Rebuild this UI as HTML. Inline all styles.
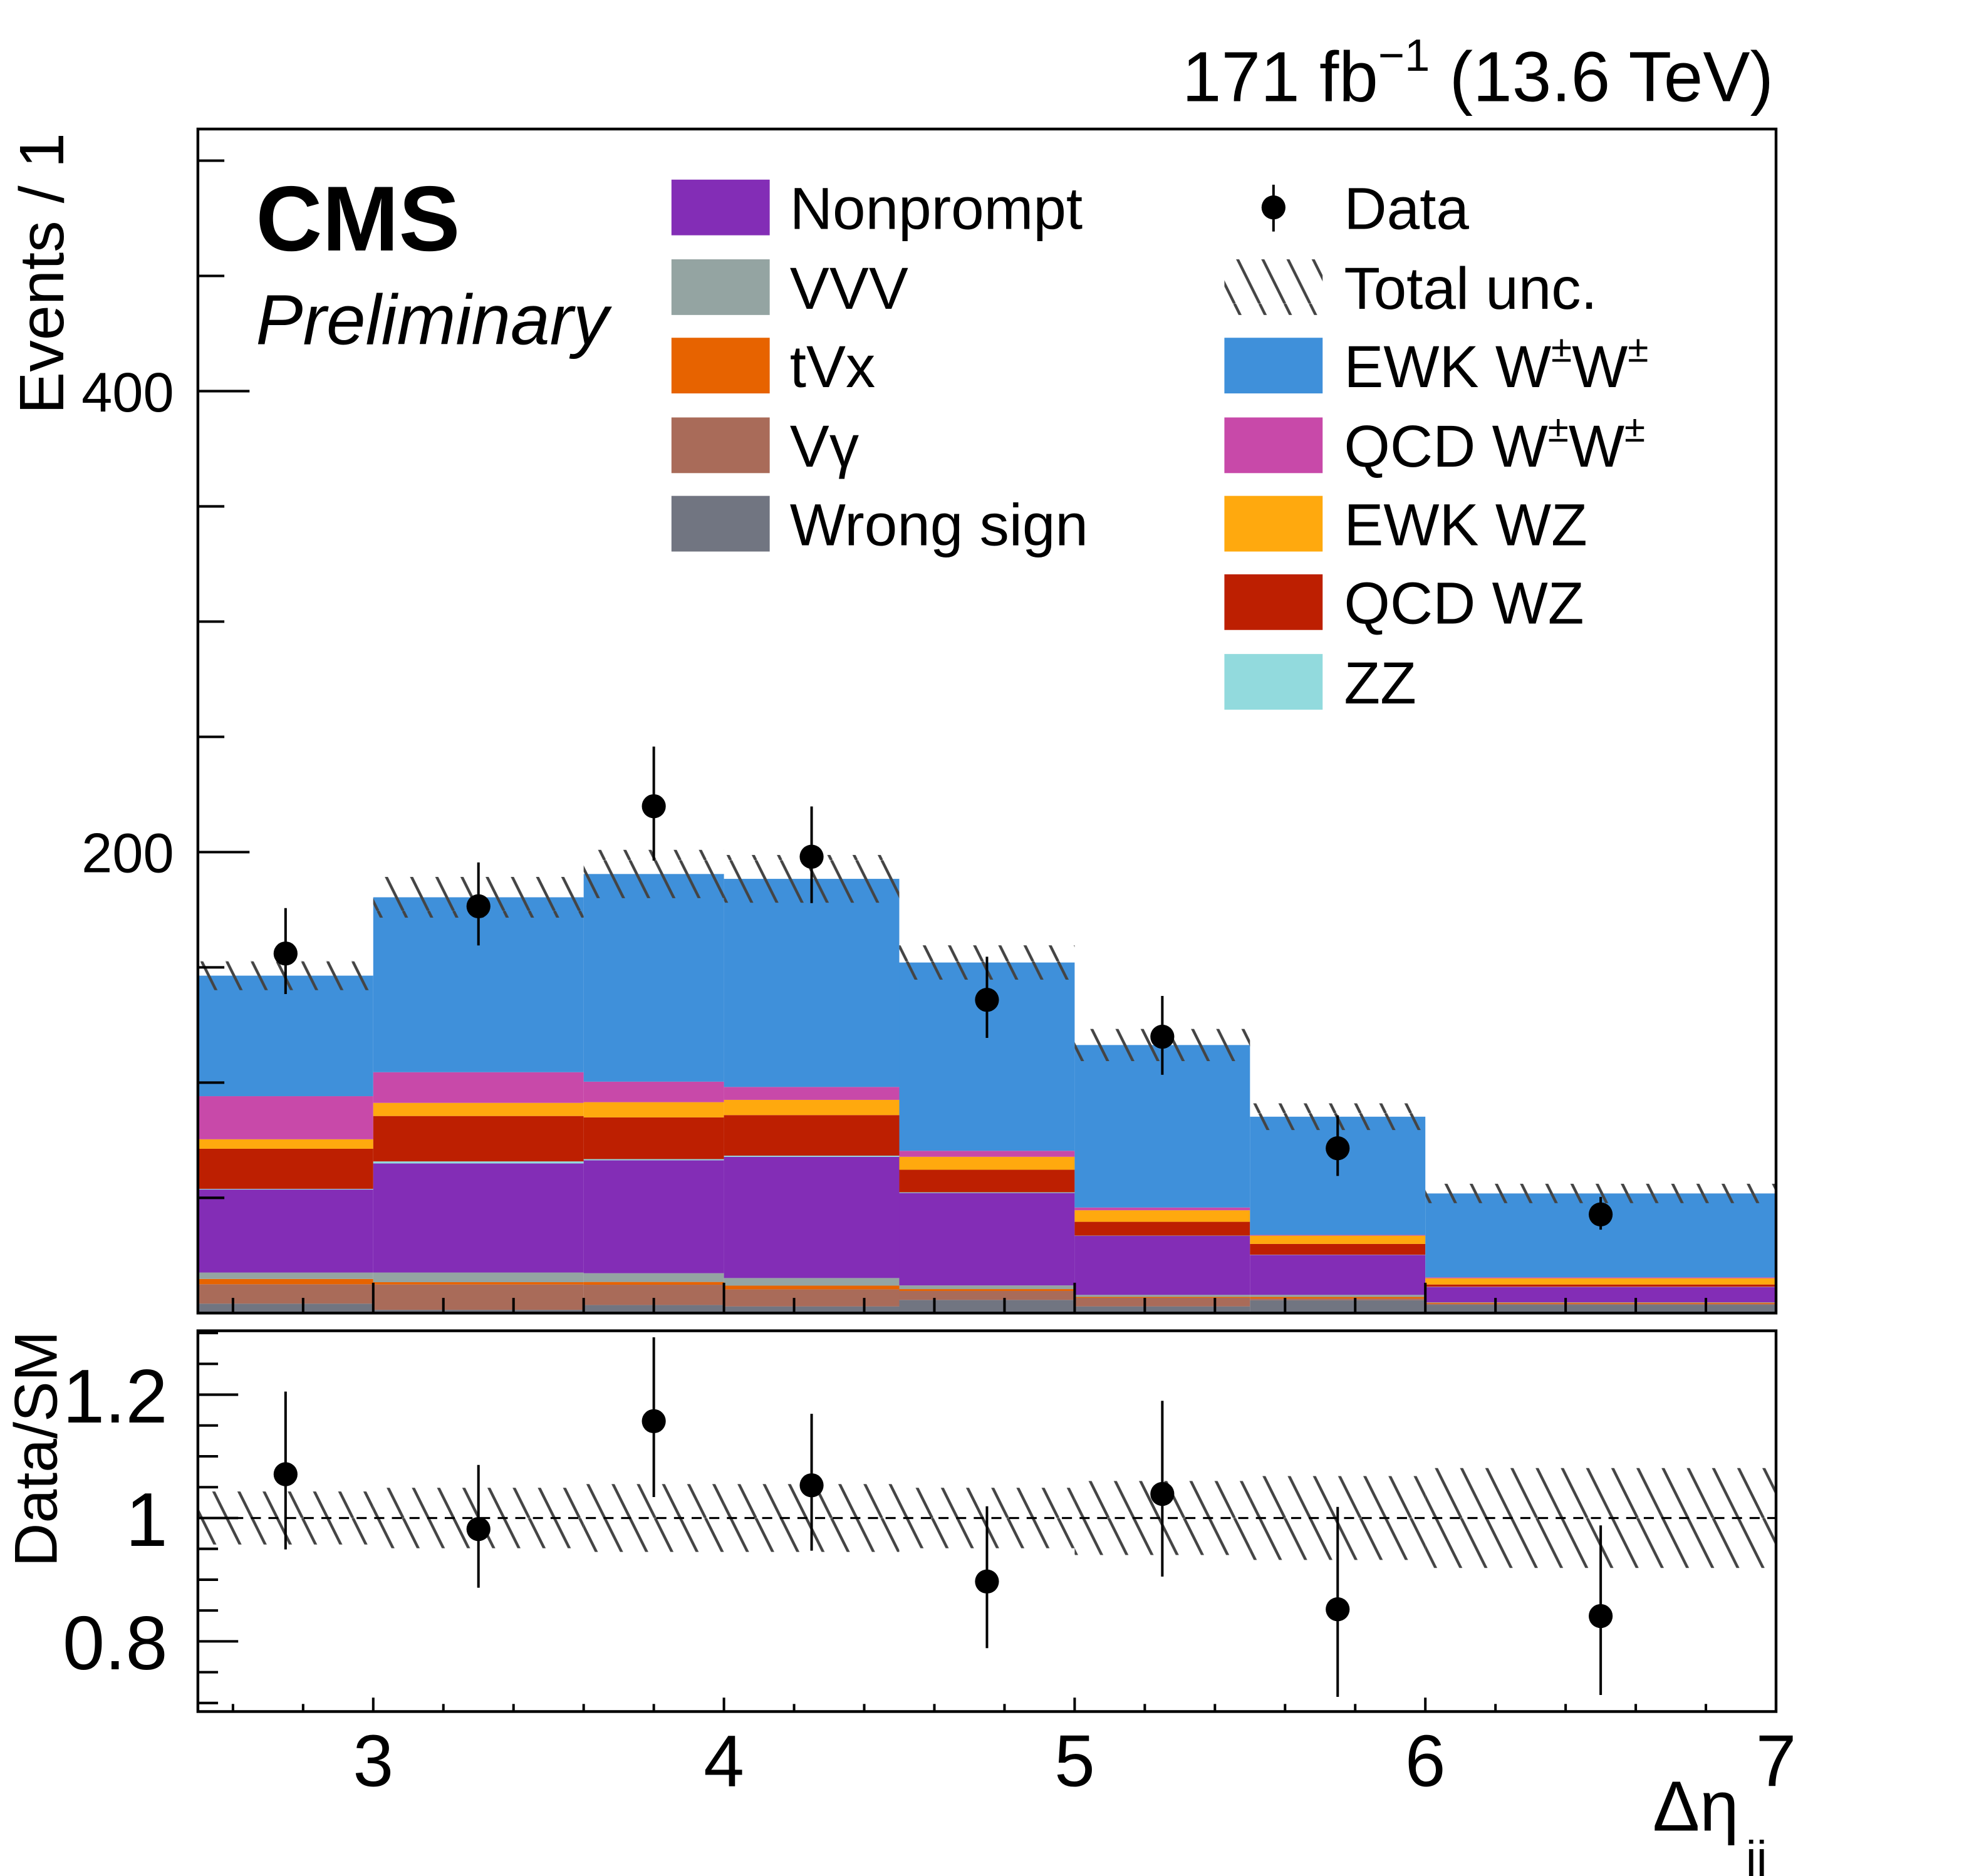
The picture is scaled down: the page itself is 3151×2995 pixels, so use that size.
<!DOCTYPE html>
<html><head><meta charset="utf-8"><style>
html,body{margin:0;padding:0;background:#fff;}
svg{display:block;}
text{font-family:"Liberation Sans",sans-serif;fill:#000;}
</style></head><body>
<svg id="chart" width="3151" height="2995" viewBox="0 0 1560 1483" xmlns="http://www.w3.org/2000/svg">
<defs>
<pattern id="hatch" patternUnits="userSpaceOnUse" width="20" height="40">
<line x1="0" y1="0" x2="20" y2="40" stroke="#444" stroke-width="2.2"/>
<line x1="-20" y1="0" x2="0" y2="40" stroke="#444" stroke-width="2.2"/>
<line x1="20" y1="0" x2="40" y2="40" stroke="#444" stroke-width="2.2"/>
</pattern>
</defs>
<g transform="scale(0.9955,1)">
<g id="main"></g>
<g id="ratio"></g>
<g id="legend"></g>

<text x="1408" y="80" font-size="56" text-anchor="end">171 fb<tspan dy="-24" font-size="36">−1</tspan><tspan dy="24"> (13.6 TeV)</tspan></text>
<text x="203" y="198" font-size="73" font-weight="bold">CMS</text>
<text x="203" y="272" font-size="56" font-style="italic">Preliminary</text>
<text transform="translate(50,105) rotate(-90)" font-size="50" text-anchor="end">Events / 1</text>
<text transform="translate(45,1052) rotate(-90)" font-size="48" text-anchor="end">Data/SM</text>
<text x="1312" y="1447" font-size="56" font-family="Liberation Serif, serif">Δη</text>
<text x="1386" y="1482" font-size="38">jj</text>
</g>
</svg>
<script>
const edges=[2.5,3,3.6,4,4.5,5,5.5,6,7];
const wrongSign=[4.1,1.4,3.5,2.9,5.7,2.9,5.6,3.6];
const vGamma=[8.4,11.0,8.8,7.4,3.9,3.7,0.7,0.5];
const tVx=[2.3,1.0,1.2,1.6,0.8,0.4,0.7,0.4];
const vvv=[2.8,4.2,3.8,3.3,1.6,0.9,0.9,0.2];
const nonprompt=[36.0,47.3,49.0,52.6,40.1,25.6,17.3,6.6];
const zz=[0.3,0.9,0.5,0.5,0.3,0.1,0.1,0.1];
const qcdWZ=[17.4,19.7,18.1,17.6,9.8,6.0,4.7,1.0];
const ewkWZ=[4.1,5.7,6.6,6.6,5.6,5.0,3.6,2.7];
const qcdWW=[18.7,13.3,8.9,5.6,2.6,1.2,0.3,0.4];
const ewkWW=[52.3,75.9,90.1,90.3,81.7,70.5,51.3,36.4];
const relUnc=[0.043,0.049,0.055,0.055,0.049,0.06,0.068,0.081];
const dataX=[2.75,3.3,3.8,4.25,4.75,5.25,5.75,6.5];
const dataY=[156.0,176.5,219.9,198.0,135.9,119.9,71.5,42.8];
const dataErrUp=[19.7,19.0,25.9,21.8,18.7,17.7,14.3,7.6];
const dataErrDn=[17.6,17.0,23.6,20.1,16.5,16.5,12.0,6.6];
const ratioY=[1.071,0.982,1.157,1.053,0.897,1.039,0.852,0.841];
const ratioErrUp=[0.134,0.104,0.136,0.116,0.122,0.151,0.166,0.147];
const ratioErrDn=[0.122,0.095,0.123,0.106,0.108,0.134,0.142,0.128];
const mainYTicks=[200,400];
const ratioYTicks=[0.8,1,1.2];
const xTicks=[3,4,5,6,7];

const NS="http://www.w3.org/2000/svg";
function mk(parent,tag,attrs){const e=document.createElementNS(NS,tag);for(const k in attrs)e.setAttribute(k,attrs[k]);parent.appendChild(e);return e;}
const X0=157,X1=1410;
function sx(v){return X0+(v-2.5)/(7-2.5)*(X1-X0);}
const MY0=1038,MPU=1.822,MTOP=102;
function my(v){return MY0-v*MPU;}
const R1=1200,RPU=487.5,RTOP=1052,RBOT=1353;
function ry(r){return R1-(r-1)*RPU;}

const procs=[
 {n:'wrong-sign',v:wrongSign,c:'#717581'},
 {n:'vgamma',v:vGamma,c:'#a96b59'},
 {n:'tvx',v:tVx,c:'#e76300'},
 {n:'vvv',v:vvv,c:'#94a4a2'},
 {n:'nonprompt',v:nonprompt,c:'#832db6'},
 {n:'zz',v:zz,c:'#92dadd'},
 {n:'qcd-wz',v:qcdWZ,c:'#bd1f01'},
 {n:'ewk-wz',v:ewkWZ,c:'#ffa90e'},
 {n:'qcd-ww',v:qcdWW,c:'#c849a9'},
 {n:'ewk-ww',v:ewkWW,c:'#3f90da'}
];
const main=document.getElementById('main');
const totals=[];
for(let b=0;b<edges.length-1;b++){
  let base=0;
  for(const p of procs){
    const r=mk(main,'rect',{x:sx(edges[b]),y:my(base+p.v[b]),width:sx(edges[b+1])-sx(edges[b]),height:p.v[b]*MPU,fill:p.c});
    
    
    base+=p.v[b];
  }
  totals.push(base);
}
for(let b=0;b<totals.length;b++){
  const hi=totals[b]*(1+relUnc[b]),lo=totals[b]*(1-relUnc[b]);
  const h=mk(main,'rect',{x:sx(edges[b]),y:my(hi),width:sx(edges[b+1])-sx(edges[b]),height:(hi-lo)*MPU,fill:'url(#hatch)'});
  
  
}
for(let i=0;i<dataX.length;i++){
  const l=mk(main,'line',{x1:sx(dataX[i]),x2:sx(dataX[i]),y1:my(dataY[i]+dataErrUp[i]),y2:my(dataY[i]-dataErrDn[i]),stroke:'#000','stroke-width':2});
  
  
  const c=mk(main,'circle',{cx:sx(dataX[i]),cy:my(dataY[i]),r:9.5,fill:'#000'});
  
  
}
const mf=mk(main,'rect',{x:X0,y:MTOP,width:X1-X0,height:MY0-MTOP,fill:'none',stroke:'#000','stroke-width':2.2});


for(let v=50;v<=500;v+=50){
  const major=mainYTicks.indexOf(v)>=0;
  mk(main,'line',{x1:X0,x2:X0+(major?41:21),y1:my(v),y2:my(v),stroke:'#000','stroke-width':2});
}
for(const t of mainYTicks){
  const tx=mk(main,'text',{x:138,y:my(t)+16,'font-size':44,'text-anchor':'end'});
  tx.textContent=t;
  
  
}
for(let k=0;k<=22;k++){
  const v=2.6+k*0.2; if(v>6.99)break;
  const major=Math.abs(v-Math.round(v))<0.01;
  mk(main,'line',{x1:sx(v),x2:sx(v),y1:MY0,y2:MY0-(major?24:12),stroke:'#000','stroke-width':2});
}
const rat=document.getElementById('ratio');
for(let b=0;b<relUnc.length;b++){
  const h=mk(rat,'rect',{x:sx(edges[b]),y:ry(1+relUnc[b]),width:sx(edges[b+1])-sx(edges[b]),height:2*relUnc[b]*RPU,fill:'url(#hatch)'});
  
  
}
const dl=mk(rat,'line',{x1:X0,x2:X1,y1:ry(1),y2:ry(1),stroke:'#000','stroke-width':1.6,'stroke-dasharray':'8,6'});


for(let i=0;i<dataX.length;i++){
  const l=mk(rat,'line',{x1:sx(dataX[i]),x2:sx(dataX[i]),y1:ry(ratioY[i]+ratioErrUp[i]),y2:ry(ratioY[i]-ratioErrDn[i]),stroke:'#000','stroke-width':2});
  
  
  const c=mk(rat,'circle',{cx:sx(dataX[i]),cy:ry(ratioY[i]),r:9.5,fill:'#000'});
  
  
}
const rf=mk(rat,'rect',{x:X0,y:RTOP,width:X1-X0,height:RBOT-RTOP,fill:'none',stroke:'#000','stroke-width':2.2});


for(let k=0;k<=12;k++){
  const v=0.7+k*0.05; if(v>1.301)break;
  const major=ratioYTicks.some(t=>Math.abs(t-v)<0.001);
  mk(rat,'line',{x1:X0,x2:X0+(major?32:16),y1:ry(v),y2:ry(v),stroke:'#000','stroke-width':2});
}
const rlab=['0.8','1','1.2'];
for(let i=0;i<ratioYTicks.length;i++){
  const tx=mk(rat,'text',{x:133,y:ry(ratioYTicks[i])+22,'font-size':60,'text-anchor':'end'});
  tx.textContent=rlab[i];
  
  
}
for(let k=0;k<=22;k++){
  const v=2.6+k*0.2; if(v>6.99)break;
  const major=Math.abs(v-Math.round(v))<0.01;
  mk(rat,'line',{x1:sx(v),x2:sx(v),y1:RBOT,y2:RBOT-(major?11:6),stroke:'#000','stroke-width':2});
}
for(const t of xTicks){
  const tx=mk(rat,'text',{x:sx(t),y:1412,'font-size':58,'text-anchor':'middle'});
  tx.textContent=t;
  
  
}
const lg=document.getElementById('legend');
const leftEntries=[['Nonprompt','#832db6'],['VVV','#94a4a2'],['tVx','#e76300'],['Vγ','#a96b59'],['Wrong sign','#717581']];
const rowY=[164,227,289,352,414,476,539];
leftEntries.forEach((e,i)=>{
  const r=mk(lg,'rect',{x:533,y:rowY[i]-22,width:78,height:44,fill:e[1]});
  
  
  const t=mk(lg,'text',{x:627,y:rowY[i]+17,'font-size':47});
  t.textContent=e[0];
  
  
});
const dm=mk(lg,'line',{x1:1011,x2:1011,y1:146,y2:183,stroke:'#000','stroke-width':2});


const dc=mk(lg,'circle',{cx:1011,cy:164,r:9.5,fill:'#000'});


const hu=mk(lg,'rect',{x:972,y:205,width:78,height:44,fill:'url(#hatch)'});


const rightEntries=[['#3f90da','EWK W','W'],['#c849a9','QCD W','W'],['#ffa90e','EWK WZ'],['#bd1f01','QCD WZ'],['#92dadd','ZZ']];
const rtexts=['Data','Total unc.'];
rtexts.forEach((s,i)=>{
  const t=mk(lg,'text',{x:1067,y:rowY[i]+17,'font-size':47});
  t.textContent=s;
  
  
});
rightEntries.forEach((e,i)=>{
  const y=rowY[i+2];
  const r=mk(lg,'rect',{x:972,y:y-22,width:78,height:44,fill:e[0]});
  
  
  const t=mk(lg,'text',{x:1067,y:y+17,'font-size':47});
  
  
  if(e.length===3){
    t.appendChild(document.createTextNode(e[1]));
    const s1=mk(t,'tspan',{dy:-20,'font-size':30});s1.textContent='±';
    const s2=mk(t,'tspan',{dy:20});s2.textContent=e[2];
    const s3=mk(t,'tspan',{dy:-20,'font-size':30});s3.textContent='±';
  } else t.textContent=e[1];
});
</script>
</body></html>
